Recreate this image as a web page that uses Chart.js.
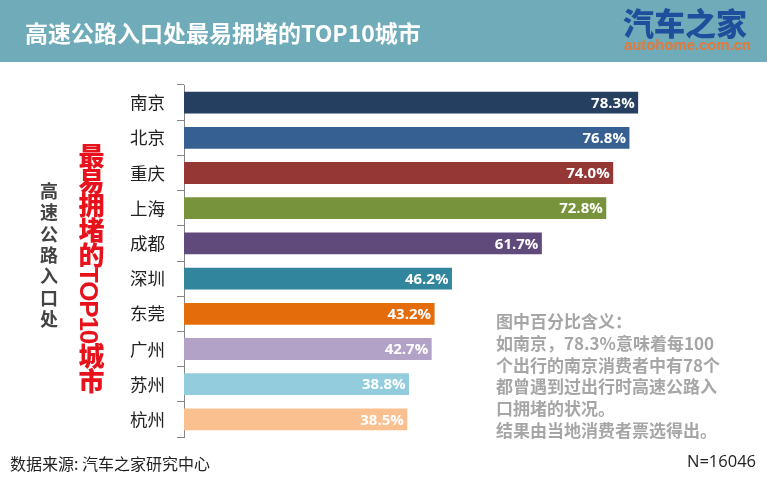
<!DOCTYPE html>
<html>
<head>
<meta charset="utf-8">
<script src="https://cdn.jsdelivr.net/npm/chart.js@4/dist/chart.umd.min.js"></script>
<style>
html, body { margin: 0; padding: 0; background: #fff; }
body { width: 767px; height: 477px; overflow: hidden; position: relative; font-family: "Noto Sans CJK SC", sans-serif; }
#wrap { position: absolute; left: 0; top: 0; width: 767px; height: 477px; }
.txt { position: absolute; white-space: nowrap; }
#band { position: absolute; left: 0; top: 0; width: 767px; height: 62px; background: #6fabb9; }
#title { left: 25px; top: 15px; font-size: 23px; font-weight: 700; line-height: 34px; color: #fff; }
#logo { left: 623px; top: 3px; font-size: 31px; font-weight: 900; line-height: 38px; color: #1f4e9c; }
#logo2 { left: 624px; top: 37px; font-family: "Liberation Sans Narrow", "Liberation Sans"; font-size: 15px; line-height: 16px; font-weight: 700; color: #e4793a; letter-spacing: -0.1px; }
.vert { writing-mode: vertical-rl; }
#vtitle { left: 36px; top: 182px; font-size: 18px; font-weight: 700; line-height: 26px; color: #444; letter-spacing: 3.4px; }
#vtitle2 { left: 73px; top: 143px; font-size: 26px; font-weight: 900; line-height: 32px; color: #e8121c; letter-spacing: -1.2px; font-family: "Liberation Sans", "Noto Sans CJK SC"; }
#note { left: 496px; top: 310px; font-size: 17px; font-weight: 700; line-height: 21.8px; color: #a6a6a6; white-space: pre; }
#source { left: 10px; top: 452px; font-size: 16px; line-height: 22px; color: #222; }
#nval { right: 11px; top: 450px; font-size: 16.5px; line-height: 22px; color: #222; font-family: "Open Sans"; }
</style>
</head>
<body>
<div id="band"></div>
<div id="wrap"><canvas id="acquisitions" width="767" height="477"></canvas></div>
<div class="txt" id="title">高速公路入口处最易拥堵的TOP10城市</div>
<div class="txt" id="logo">汽车之家</div>
<div class="txt" id="logo2">autohome.com.cn</div>
<div class="txt vert" id="vtitle">高速公路入口处</div>
<div class="txt vert" id="vtitle2">最易拥堵的TOP10城市</div>
<div class="txt" id="note">图中百分比含义：
如南京，78.3%意味着每100
个出行的南京消费者中有78个
都曾遇到过出行时高速公路入
口拥堵的状况。
结果由当地消费者票选得出。</div>
<div class="txt" id="source">数据来源: 汽车之家研究中心</div>
<div class="txt" id="nval">N=16046</div>
<script>
var cities = ['南京', '北京', '重庆', '上海', '成都', '深圳', '东莞', '广州', '苏州', '杭州'];
var shares = [78.3, 76.8, 74.0, 72.8, 61.7, 46.2, 43.2, 42.7, 38.8, 38.5];
var bar_colors = ['#243f60', '#376092', '#953735', '#77933c', '#604a7b', '#31859c', '#e46c0a', '#b3a2c7', '#93cddd', '#fac090'];

// white value label inside the end of each bar
var value_labels = {
    id: 'value_labels',
    afterDatasetsDraw: function (chart) {
        var ctx = chart.ctx;
        var bars = chart.getDatasetMeta(0).data;
        ctx.save();
        ctx.fillStyle = '#fff';
        ctx.font = '700 15px "Open Sans"';
        ctx.textAlign = 'right';
        ctx.textBaseline = 'middle';
        for (var i = 0; i < bars.length; i++) {
            ctx.fillText(shares[i].toFixed(1) + '%', bars[i].x - 3.5, bars[i].y + 1);
        }
        ctx.restore();
    }
};

var chart_body = new Chart(
    document.getElementById('acquisitions'),
    {
        type: 'bar',
        data: {
            labels: cities,
            datasets: [{
                data: shares,
                backgroundColor: bar_colors,
                barPercentage: 0.62,
                categoryPercentage: 1
            }]
        },
        options: {
            indexAxis: 'y',
            responsive: false,
            animation: false,
            layout: { padding: { top: 85, bottom: 40, left: 0, right: 3 } },
            plugins: { legend: { display: false }, tooltip: { enabled: false } },
            scales: {
                x: { display: false, min: 0, max: 100 },
                y: {
                    afterFit: function (scale) { scale.width = 184; },
                    border: { color: '#868686', width: 1 },
                    grid: { drawOnChartArea: false, color: '#868686', tickLength: 7 },
                    ticks: {
                        color: '#222',
                        padding: 12,
                        font: { family: '"Noto Sans CJK SC"', size: 17.5 }
                    }
                }
            }
        },
        plugins: [value_labels]
    }
);
</script>
</body>
</html>
